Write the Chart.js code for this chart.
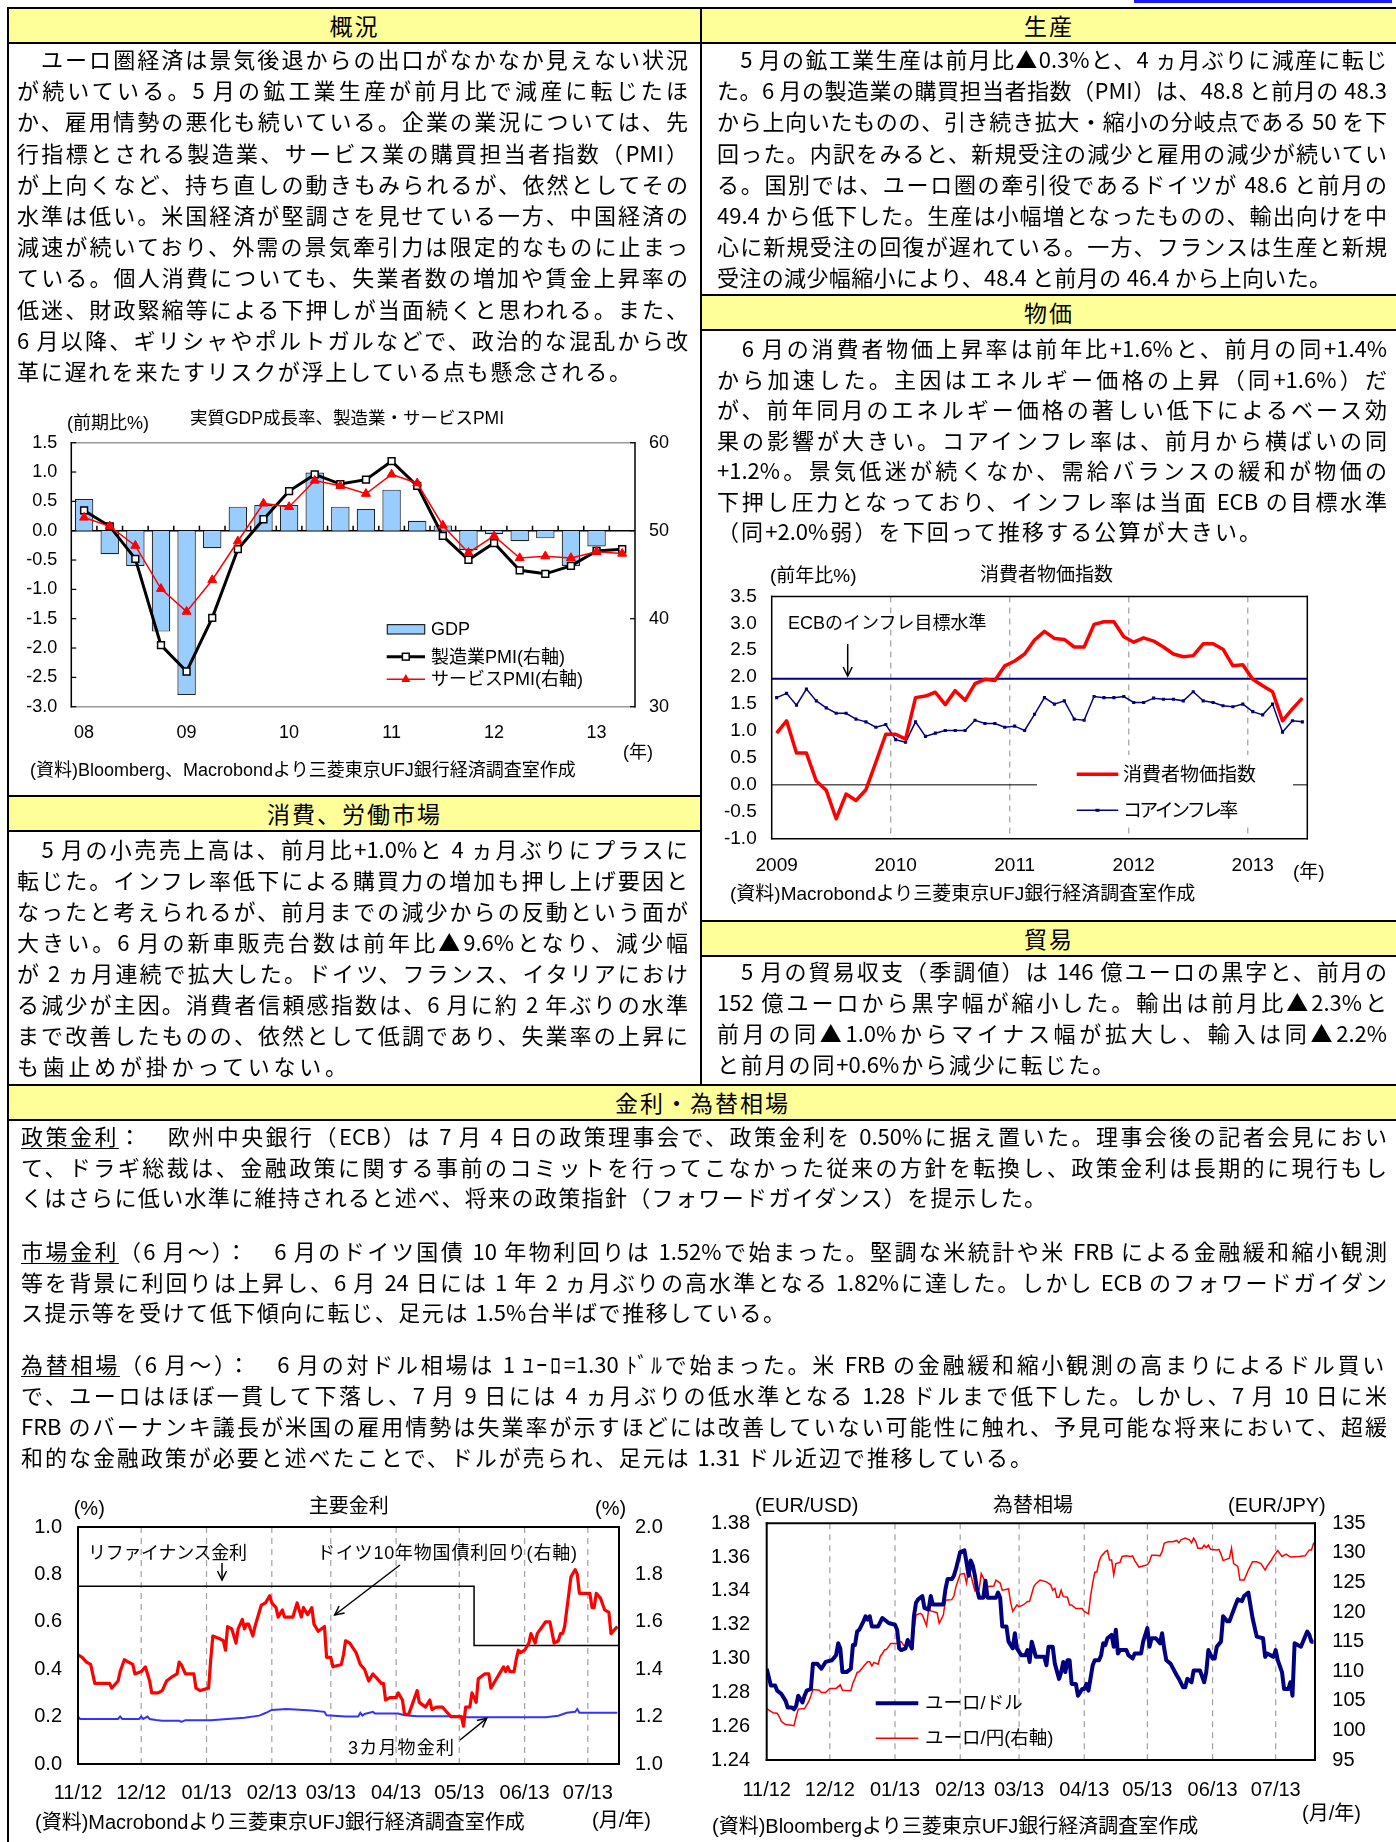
<!DOCTYPE html>
<html lang="ja">
<head>
<meta charset="UTF-8">
<title>ユーロ圏経済</title>
<style>
  body { margin: 0; background: #fff; }
  #page { position: relative; width: 1396px; height: 1842px; overflow: hidden; font-family: "Noto Sans CJK JP", sans-serif; color: #000; }
  .cell { position: absolute; box-sizing: border-box; border: 2px solid #000; background: #fff; }
  .hd { background: #ffff99; text-align: center; font-size: 23px; line-height: 33px; letter-spacing: 2px; }
  .ln { position: absolute; height: 30px; line-height: 30px; font-size: 22px; text-align: justify; text-align-last: justify; }
  .ct { position: absolute; white-space: nowrap; line-height: 1; font-family: "Liberation Sans", "Noto Sans CJK JP", sans-serif; }
  canvas { position: absolute; }
  u { text-decoration-thickness: 1px; text-underline-offset: 3px; }
  #ov { position: absolute; left: 0; top: 0; }
</style>
</head>
<body>
<div id="page">
  <div style="position:absolute;left:1134px;top:0;width:258px;height:3px;background:#1a1aff"></div>

  <!-- table cells -->
  <div class="cell" style="left:7px;top:42px;width:695px;height:755px"></div>
  <div class="cell" style="left:7px;top:830px;width:695px;height:256px"></div>
  <div class="cell" style="left:700px;top:42px;width:698px;height:254px"></div>
  <div class="cell" style="left:700px;top:329px;width:698px;height:593px"></div>
  <div class="cell" style="left:700px;top:955px;width:698px;height:131px"></div>
  <div class="cell" style="left:7px;top:1119px;width:1391px;height:760px"></div>
  <div class="cell hd" style="left:7px;top:7px;width:695px;height:37px">概況</div>
  <div class="cell hd" style="left:700px;top:7px;width:698px;height:37px">生産</div>
  <div class="cell hd" style="left:7px;top:795px;width:695px;height:37px">消費、労働市場</div>
  <div class="cell hd" style="left:700px;top:294px;width:698px;height:37px">物価</div>
  <div class="cell hd" style="left:700px;top:920px;width:698px;height:37px">貿易</div>
  <div class="cell hd" style="left:7px;top:1084px;width:1391px;height:37px">金利・為替相場</div>

  <!-- charts -->
  <canvas id="gdpChart" width="680" height="330" style="left:12px;top:430px;width:680px;height:330px"></canvas>
  <canvas id="cpiChart" width="691" height="300" style="left:705px;top:585px;width:691px;height:300px"></canvas>
  <canvas id="rateChart" width="680" height="290" style="left:12px;top:1515px;width:680px;height:290px"></canvas>
  <canvas id="fxChart" width="691" height="300" style="left:705px;top:1510px;width:691px;height:300px"></canvas>

  <svg id="ov" width="1396" height="1842"></svg>
</div>

<script src="https://cdn.jsdelivr.net/npm/chart.js"></script>
<script>
// ---- chart 1: real GDP q/q and PMIs (quarterly, 2008Q1 - 2013Q2)
const quarters = ['08Q1','08Q2','08Q3','08Q4','09Q1','09Q2','09Q3','09Q4','10Q1','10Q2','10Q3','10Q4',
                  '11Q1','11Q2','11Q3','11Q4','12Q1','12Q2','12Q3','12Q4','13Q1','13Q2'];
const gdp    = [0.54,-0.40,-0.60,-1.72,-2.80,-0.30,0.41,0.44,0.44,0.99,0.41,0.37,
                 0.70,0.17,0.09,-0.33,-0.06,-0.18,-0.13,-0.60,-0.27,null];
const mfgPmi = [52.3,50.5,46.8,37.0,34.0,40.1,47.9,51.3,54.5,56.4,55.3,55.8,
                57.9,55.1,49.4,46.7,48.6,45.5,45.1,46.0,47.7,47.9];
const svcPmi = [51.5,50.5,48.3,43.4,40.8,44.4,48.8,53.1,52.7,55.7,55.1,54.2,
                56.4,55.4,50.6,47.5,49.4,46.9,47.1,46.9,47.6,47.4];

// ---- chart 2: HICP y/y, monthly Jan 2009 - Jun 2013
const yearLabels = ['2009','2010','2011','2012','2013'];
const cpi = [0.96,1.19,0.59,0.59,0.07,-0.10,-0.63,-0.17,-0.29,-0.09,0.42,0.94,
             0.94,0.85,1.62,1.65,1.72,1.49,1.75,1.57,1.88,1.96,1.94,2.21,
             2.30,2.43,2.69,2.85,2.72,2.70,2.56,2.56,2.98,3.03,3.03,2.75,
             2.65,2.73,2.67,2.56,2.43,2.38,2.40,2.62,2.62,2.52,2.21,2.23,
             1.96,1.84,1.73,1.19,1.41,1.61];
const coreCpi = [1.62,1.70,1.48,1.78,1.56,1.43,1.33,1.33,1.22,1.17,1.07,1.12,
                 0.84,0.79,1.17,0.90,0.96,1.01,1.01,1.01,1.20,1.14,1.14,1.07,
                 1.09,1.01,1.31,1.62,1.50,1.56,1.22,1.20,1.64,1.62,1.62,1.64,
                 1.53,1.53,1.61,1.59,1.59,1.56,1.73,1.56,1.53,1.47,1.45,1.50,
                 1.36,1.30,1.50,0.98,1.19,1.17];
const ecbTarget = 1.97;

// ---- charts 3 & 4: daily, [days since 2012-11-01, value]
const monthLabels = ['11/12','12/12','01/13','02/13','03/13','04/13','05/13','06/13','07/13'];
const bund10y = [[0,1.46],[2,1.45],[4,1.43],[6,1.42],[7,1.38],[8,1.34],[15,1.34],[16,1.32],[17,1.33],[19,1.35],
  [20,1.39],[22,1.44],[24,1.43],[26,1.42],[27,1.38],[30,1.39],[32,1.41],[34,1.35],[35,1.30],[38,1.30],
  [40,1.31],[42,1.35],[45,1.37],[47,1.38],[48,1.43],[49,1.42],[51,1.38],[55,1.38],[56,1.32],[58,1.31],
  [62,1.32],[63,1.44],[64,1.54],[67,1.53],[69,1.52],[70,1.48],[71,1.58],[73,1.57],[75,1.51],[76,1.57],
  [78,1.61],[79,1.57],[80,1.59],[81,1.59],[83,1.54],[84,1.58],[86,1.64],[87,1.67],[89,1.68],[91,1.71],
  [92,1.68],[94,1.66],[95,1.62],[97,1.65],[98,1.62],[102,1.62],[104,1.68],[106,1.62],[107,1.66],[109,1.63],
  [111,1.66],[112,1.59],[114,1.56],[117,1.58],[118,1.45],[120,1.45],[121,1.41],[125,1.42],[126,1.46],[127,1.52],
  [129,1.51],[132,1.47],[134,1.42],[136,1.40],[138,1.35],[140,1.38],[142,1.36],[144,1.34],[145,1.34],[146,1.27],
  [148,1.28],[151,1.28],[152,1.30],[154,1.27],[155,1.21],[157,1.21],[159,1.26],[161,1.31],[162,1.26],[165,1.24],
  [167,1.27],[168,1.23],[170,1.24],[173,1.24],[174,1.23],[176,1.21],[177,1.20],[182,1.20],[183,1.16],[184,1.24],
  [186,1.24],[187,1.30],[189,1.26],[190,1.36],[193,1.38],[195,1.38],[196,1.32],[198,1.35],[200,1.38],[202,1.41],
  [203,1.39],[204,1.41],[205,1.39],[207,1.39],[208,1.44],[209,1.48],[210,1.47],[212,1.48],[214,1.51],[215,1.55],
  [217,1.51],[218,1.55],[222,1.60],[224,1.60],[226,1.51],[228,1.52],[229,1.55],[230,1.55],[231,1.58],[233,1.72],
  [234,1.79],[236,1.82],[237,1.80],[238,1.72],[243,1.72],[244,1.66],[245,1.66],[246,1.72],[248,1.70],[250,1.65],
  [252,1.64],[253,1.55],[256,1.58]];
const euribor3m = [[0,0.20],[1,0.19],[19,0.19],[20,0.20],[21,0.19],[29,0.19],[30,0.20],[31,0.19],[33,0.20],[34,0.19],
  [37,0.186],[40,0.183],[48,0.183],[49,0.178],[51,0.185],[63,0.185],[71,0.19],[79,0.195],[86,0.204],[89,0.215],
  [92,0.228],[99,0.232],[111,0.226],[117,0.22],[118,0.206],[127,0.20],[133,0.20],[134,0.216],[135,0.204],[136,0.211],
  [140,0.22],[141,0.213],[152,0.213],[155,0.206],[161,0.202],[180,0.202],[182,0.197],[222,0.197],[228,0.204],[232,0.216],
  [236,0.22],[237,0.232],[238,0.216],[256,0.216]];
const refiRate = [[0,0.75],[188,0.50],[257,0.50]];

const eurUsd = [[0,1.294],[2,1.284],[4,1.284],[5,1.281],[7,1.279],[9,1.275],[10,1.271],[12,1.271],[13,1.270],[14,1.272],
  [15,1.278],[17,1.274],[18,1.278],[19,1.281],[21,1.282],[22,1.297],[24,1.297],[26,1.294],[28,1.298],[31,1.299],
  [33,1.302],[34,1.309],[35,1.306],[36,1.292],[38,1.292],[40,1.294],[41,1.308],[42,1.308],[43,1.316],[44,1.317],
  [46,1.322],[47,1.325],[48,1.323],[49,1.325],[50,1.319],[53,1.319],[55,1.324],[58,1.321],[61,1.320],[62,1.317],
  [63,1.306],[64,1.305],[66,1.306],[67,1.311],[69,1.306],[70,1.325],[71,1.333],[72,1.335],[74,1.337],[75,1.330],
  [77,1.329],[78,1.337],[79,1.332],[84,1.332],[85,1.341],[86,1.347],[88,1.347],[89,1.349],[90,1.353],[91,1.358],
  [92,1.363],[94,1.364],[95,1.357],[96,1.349],[97,1.358],[98,1.355],[99,1.349],[100,1.341],[101,1.336],[103,1.336],
  [104,1.346],[105,1.336],[109,1.336],[110,1.339],[111,1.336],[112,1.319],[114,1.319],[115,1.310],[117,1.306],[118,1.315],
  [119,1.306],[121,1.302],[123,1.302],[124,1.305],[125,1.298],[126,1.310],[128,1.301],[130,1.301],[132,1.301],[133,1.296],
  [134,1.307],[136,1.307],[137,1.297],[139,1.288],[140,1.292],[141,1.298],[142,1.292],[143,1.299],[144,1.299],[145,1.285],
  [147,1.285],[148,1.278],[150,1.282],[151,1.282],[152,1.285],[153,1.281],[155,1.296],[156,1.299],[158,1.299],[159,1.302],
  [160,1.309],[161,1.308],[162,1.312],[164,1.314],[165,1.307],[166,1.317],[167,1.303],[168,1.305],[171,1.305],[172,1.302],
  [174,1.300],[175,1.303],[178,1.303],[179,1.310],[181,1.318],[182,1.307],[183,1.312],[185,1.312],[187,1.309],[188,1.315],
  [189,1.306],[190,1.299],[192,1.297],[195,1.290],[196,1.288],[198,1.283],[199,1.283],[200,1.288],[202,1.286],[203,1.293],
  [206,1.293],[208,1.286],[209,1.292],[210,1.305],[212,1.300],[213,1.300],[214,1.307],[216,1.310],[217,1.325],[219,1.322],
  [220,1.322],[223,1.332],[224,1.335],[226,1.334],[227,1.337],[229,1.339],[231,1.324],[233,1.313],[236,1.312],[237,1.301],
  [238,1.303],[241,1.301],[242,1.305],[243,1.299],[245,1.292],[246,1.282],[248,1.282],[249,1.286],[250,1.278],[251,1.309],
  [254,1.307],[257,1.316],[258,1.314],[259,1.310],[260,1.310]];
const eurJpy = [[0,103.7],[2,103.2],[3,103.0],[5,102.9],[6,102.3],[7,101.5],[9,101.0],[11,100.9],[13,100.8],[14,102.3],
  [15,103.6],[18,103.7],[20,104.9],[21,105.8],[22,106.9],[25,106.8],[26,106.4],[28,106.4],[30,107.1],[33,107.1],
  [35,107.7],[36,106.8],[40,106.7],[41,108.0],[42,108.8],[43,109.8],[44,109.9],[46,110.8],[48,111.6],[49,111.6],
  [50,110.9],[51,111.5],[53,111.2],[54,112.5],[55,113.0],[56,113.6],[57,113.7],[59,114.7],[62,114.7],[63,115.0],
  [64,115.0],[65,114.4],[67,114.2],[68,115.0],[69,114.1],[70,117.0],[71,119.5],[73,119.8],[74,119.5],[76,117.7],
  [77,120.4],[78,120.2],[81,119.9],[82,118.1],[84,119.5],[85,122.0],[88,122.1],[89,122.7],[90,124.3],[92,126.4],
  [94,126.5],[95,124.9],[96,127.1],[97,126.3],[99,123.6],[101,123.8],[102,126.5],[103,125.8],[105,124.3],[108,124.4],
  [109,125.4],[111,124.9],[112,123.7],[115,123.9],[116,121.6],[117,120.1],[119,121.2],[120,120.9],[122,121.2],[124,121.8],
  [125,121.8],[127,124.3],[128,124.8],[130,125.4],[133,125.1],[135,124.6],[136,123.7],[137,124.0],[138,122.5],[139,122.5],
  [140,123.7],[141,122.6],[143,122.5],[144,121.2],[145,121.2],[147,120.6],[150,120.6],[151,120.1],[153,119.7],[154,122.7],
  [155,124.9],[156,126.7],[157,126.8],[158,128.5],[159,129.4],[161,130.2],[162,130.4],[163,128.8],[164,128.8],[165,126.3],
  [166,128.2],[168,128.4],[169,129.4],[171,129.5],[173,129.4],[174,129.5],[175,128.7],[177,127.6],[179,127.8],[181,128.0],
  [182,128.5],[183,129.6],[185,129.6],[187,129.5],[188,130.2],[189,131.6],[191,131.9],[193,131.9],[195,132.1],[196,131.7],
  [197,132.2],[199,132.5],[201,132.2],[202,131.7],[203,132.5],[204,131.9],[205,130.8],[207,130.8],[208,131.3],[209,130.9],
  [210,131.3],[211,130.6],[214,130.5],[215,130.6],[216,129.8],[217,128.7],[220,129.1],[221,130.8],[222,128.2],[224,127.7],
  [225,125.4],[227,125.4],[229,127.1],[231,128.5],[233,128.5],[235,128.2],[237,127.1],[238,127.8],[240,128.8],[241,129.4],
  [243,130.4],[245,129.4],[247,129.8],[249,129.3],[253,129.4],[256,129.5],[258,130.5],[259,130.5],[260,131.6],[261,131.2]];

// ---------------------------------------------------------------- text
const page = document.getElementById('page');

function textLines(arr, left, right, centers, lastRight) {
  arr.forEach((t, i) => {
    const d = document.createElement('div');
    d.className = 'ln';
    d.innerHTML = t;
    const r = (i === arr.length - 1 && lastRight) ? lastRight : right;
    d.style.left = left + 'px';
    d.style.width = (r - left) + 'px';
    d.style.top = (centers[i] - 15) + 'px';
    page.appendChild(d);
  });
}
const rows = (c0, step, n) => Array.from({ length: n }, (_, i) => c0 + step * i);

textLines([
  '　ユーロ圏経済は景気後退からの出口がなかなか見えない状況',
  'が続いている。5 月の鉱工業生産が前月比で減産に転じたほ',
  'か、雇用情勢の悪化も続いている。企業の業況については、先',
  '行指標とされる製造業、サービス業の購買担当者指数（PMI）',
  'が上向くなど、持ち直しの動きもみられるが、依然としてその',
  '水準は低い。米国経済が堅調さを見せている一方、中国経済の',
  '減速が続いており、外需の景気牽引力は限定的なものに止まっ',
  'ている。個人消費についても、失業者数の増加や賃金上昇率の',
  '低迷、財政緊縮等による下押しが当面続くと思われる。また、',
  '6 月以降、ギリシャやポルトガルなどで、政治的な混乱から改',
  '革に遅れを来たすリスクが浮上している点も懸念される。'
], 17, 688, rows(58, 31.2, 11), 631);

textLines([
  '　5 月の鉱工業生産は前月比▲0.3%と、4 ヵ月ぶりに減産に転じ',
  'た。6 月の製造業の購買担当者指数（PMI）は、48.8 と前月の 48.3',
  'から上向いたものの、引き続き拡大・縮小の分岐点である 50 を下',
  '回った。内訳をみると、新規受注の減少と雇用の減少が続いてい',
  'る。国別では、ユーロ圏の牽引役であるドイツが 48.6 と前月の',
  '49.4 から低下した。生産は小幅増となったものの、輸出向けを中',
  '心に新規受注の回復が遅れている。一方、フランスは生産と新規',
  '受注の減少幅縮小により、48.4 と前月の 46.4 から上向いた。'
], 717, 1387, rows(58, 31.2, 8), 1331);

textLines([
  '　6 月の消費者物価上昇率は前年比+1.6%と、前月の同+1.4%',
  'から加速した。主因はエネルギー価格の上昇（同+1.6%）だ',
  'が、前年同月のエネルギー価格の著しい低下によるベース効',
  '果の影響が大きい。コアインフレ率は、前月から横ばいの同',
  '+1.2%。景気低迷が続くなか、需給バランスの緩和が物価の',
  '下押し圧力となっており、インフレ率は当面 ECB の目標水準',
  '（同+2.0%弱）を下回って推移する公算が大きい。'
], 717, 1387, rows(347, 30.5, 7), 1261);

textLines([
  '　5 月の小売売上高は、前月比+1.0%と 4 ヵ月ぶりにプラスに',
  '転じた。インフレ率低下による購買力の増加も押し上げ要因と',
  'なったと考えられるが、前月までの減少からの反動という面が',
  '大きい。6 月の新車販売台数は前年比▲9.6%となり、減少幅',
  'が 2 ヵ月連続で拡大した。ドイツ、フランス、イタリアにおけ',
  'る減少が主因。消費者信頼感指数は、6 月に約 2 年ぶりの水準',
  'まで改善したものの、依然として低調であり、失業率の上昇に',
  'も歯止めが掛かっていない。'
], 17, 688, rows(847.5, 31, 8), 347);

textLines([
  '　5 月の貿易収支（季調値）は 146 億ユーロの黒字と、前月の',
  '152 億ユーロから黒字幅が縮小した。輸出は前月比▲2.3%と',
  '前月の同▲1.0%からマイナス幅が拡大し、輸入は同▲2.2%',
  'と前月の同+0.6%から減少に転じた。'
], 717, 1387, rows(969.5, 31, 4), 1114);

textLines([
  '<u>政策金利</u>：　欧州中央銀行（ECB）は 7 月 4 日の政策理事会で、政策金利を 0.50%に据え置いた。理事会後の記者会見におい',
  'て、ドラギ総裁は、金融政策に関する事前のコミットを行ってこなかった従来の方針を転換し、政策金利は長期的に現行もし',
  'くはさらに低い水準に維持されると述べ、将来の政策指針（フォワードガイダンス）を提示した。'
], 21, 1387, rows(1135, 30.5, 3), 1046);
textLines([
  '<u>市場金利</u>（6 月～）：　6 月のドイツ国債 10 年物利回りは 1.52%で始まった。堅調な米統計や米 FRB による金融緩和縮小観測',
  '等を背景に利回りは上昇し、6 月 24 日には 1 年 2 ヵ月ぶりの高水準となる 1.82%に達した。しかし ECB のフォワードガイダン',
  'ス提示等を受けて低下傾向に転じ、足元は 1.5%台半ばで推移している。'
], 21, 1387, rows(1250, 30.5, 3), 785);
textLines([
  '<u>為替相場</u>（6 月～）：　6 月の対ドル相場は 1 ﾕｰﾛ=1.30 ﾄﾞﾙで始まった。米 FRB の金融緩和縮小観測の高まりによるドル買い',
  'で、ユーロはほぼ一貫して下落し、7 月 9 日には 4 ヵ月ぶりの低水準となる 1.28 ドルまで低下した。しかし、7 月 10 日に米',
  'FRB のバーナンキ議長が米国の雇用情勢は失業率が示すほどには改善していない可能性に触れ、予見可能な将来において、超緩',
  '和的な金融政策が必要と述べたことで、ドルが売られ、足元は 1.31 ドル近辺で推移している。'
], 21, 1387, rows(1363, 31, 4), 1032);

// ---------------------------------------------------------------- charts
Chart.defaults.font.family = '"Liberation Sans", "Noto Sans CJK JP", sans-serif';
Chart.defaults.color = '#000';
Chart.defaults.animation = false;

const decor = {
  id: 'decor',
  beforeDatasetsDraw(chart, args, o) {
    const { ctx, chartArea: a, scales } = chart;
    ctx.save();
    if (o.vGrid) {
      ctx.strokeStyle = '#a0a0a0';
      ctx.lineWidth = 1.2;
      ctx.setLineDash([6, 5]);
      o.vGrid.forEach(v => {
        const x = scales.x.getPixelForValue(v);
        ctx.beginPath(); ctx.moveTo(x, a.top); ctx.lineTo(x, a.bottom); ctx.stroke();
      });
      ctx.setLineDash([]);
    }
    if (o.zeroAxis) {
      const y = scales[o.zeroAxis].getPixelForValue(0);
      ctx.strokeStyle = '#000';
      ctx.lineWidth = o.zeroWidth || 1;
      ctx.beginPath(); ctx.moveTo(a.left, y); ctx.lineTo(a.right, y); ctx.stroke();
      if (o.catTicks) {
        const xs = scales.x, n = xs.getLabels().length;
        for (let i = 1; i < n; i++) {
          const x = (xs.getPixelForValue(i - 1) + xs.getPixelForValue(i)) / 2;
          ctx.beginPath(); ctx.moveTo(x, y); ctx.lineTo(x, y - 5); ctx.stroke();
        }
      }
    }
    ctx.restore();
  },
  afterDraw(chart, args, o) {
    if (!o.frame) return;
    const { ctx, chartArea: a, scales } = chart;
    const f = o.frame, h = f.width / 2;
    ctx.save();
    ctx.lineWidth = f.width;
    const seg = (c, x1, y1, x2, y2) => {
      ctx.strokeStyle = c; ctx.beginPath(); ctx.moveTo(x1, y1); ctx.lineTo(x2, y2); ctx.stroke();
    };
    seg(f.tb || f.color, a.left - h, a.top, a.right + h, a.top);
    seg(f.tb || f.color, a.left - h, a.bottom, a.right + h, a.bottom);
    seg(f.color, a.left, a.top - h, a.left, a.bottom + h);
    seg(f.color, a.right, a.top - h, a.right, a.bottom + h);
    if (f.innerTicks) {
      ctx.lineWidth = 1.2;
      f.innerTicks.forEach(([id, dir]) => {
        const s = scales[id], x0 = dir > 0 ? a.left : a.right;
        s.ticks.forEach(t => { const y = s.getPixelForValue(t.value); seg(f.color, x0, y, x0 + dir * 5, y); });
      });
    }
    ctx.restore();
  }
};
Chart.register(decor);

// the gap between axis and labels is made with an (undrawn) tick length rather than
// ticks.padding, because the padding would also push the plot area down
function yAxis(pos, min, max, step, gap, width, dec, size) {
  return {
    type: 'linear', position: pos, min, max,
    ticks: { stepSize: step, padding: 0, autoSkip: false, font: { size }, callback: v => v.toFixed(dec) },
    grid: { display: false, drawTicks: true, tickLength: gap },
    border: { display: false },
    afterFit: s => { s.width = width; }
  };
}
function xTicksAt(values) {
  return s => { s.ticks = values.map(v => ({ value: v })); };
}
const noLegend = { legend: { display: false }, tooltip: { enabled: false } };

// chart 1
new Chart(document.getElementById('gdpChart'), {
  type: 'bar',
  data: {
    labels: quarters,
    datasets: [
      { type: 'line', label: 'サービスPMI(右軸)', data: svcPmi, yAxisID: 'yR', order: 0,
        borderColor: '#ff0000', borderWidth: 1.5, pointStyle: 'triangle', pointRadius: 5.2,
        pointBackgroundColor: '#ff0000', pointBorderColor: '#ff0000', pointBorderWidth: 1 },
      { type: 'line', label: '製造業PMI(右軸)', data: mfgPmi, yAxisID: 'yR', order: 1,
        borderColor: '#000', borderWidth: 3, pointStyle: 'rect', pointRadius: 4.8,
        pointBackgroundColor: '#fff', pointBorderColor: '#000', pointBorderWidth: 1.5 },
      { type: 'bar', label: 'GDP', data: gdp, yAxisID: 'yL', order: 2,
        backgroundColor: '#99ccff', borderColor: '#222', borderWidth: 1.2,
        categoryPercentage: 1, barPercentage: 0.72 }
    ]
  },
  options: {
    responsive: false,
    layout: { padding: { top: 12.7 } },
    plugins: Object.assign({ decor: { zeroAxis: 'yL', zeroWidth: 1.5, catTicks: true,
      frame: { color: '#000', tb: '#999', width: 1.5, innerTicks: [['yL', 1], ['yR', -1]] } } }, noLegend),
    scales: {
      x: { type: 'category', offset: true, grid: { display: false, drawTicks: true, tickLength: 15.5 }, border: { display: false },
           ticks: { autoSkip: false, maxRotation: 0, padding: 0, font: { size: 18 },
                    callback: (v, i) => quarters[i].endsWith('Q1') ? quarters[i].slice(0, 2) : '' },
           afterFit: s => { s.height = 53.3; } },
      yL: yAxis('left', -3, 1.5, 0.5, 14, 59.3, 1, 18),
      yR: yAxis('right', 30, 60, 10, 14, 57, 0, 18)
    }
  }
});

// chart 2 (x axis in months from Jan 2009, values plotted mid-month)
new Chart(document.getElementById('cpiChart'), {
  type: 'line',
  data: {
    datasets: [
      { label: '消費者物価指数', data: cpi.map((v, i) => ({ x: i + 0.5, y: v })), order: 0,
        borderColor: '#ff0000', borderWidth: 3.5, pointRadius: 0, borderJoinStyle: 'round' },
      { label: 'ECB目標', data: [{ x: 0, y: ecbTarget }, { x: 54, y: ecbTarget }], order: 1,
        borderColor: '#000080', borderWidth: 2, pointRadius: 0 },
      { label: 'コアインフレ率', data: coreCpi.map((v, i) => ({ x: i + 0.5, y: v })), order: 2,
        borderColor: '#000080', borderWidth: 1.5, pointStyle: 'rect', pointRadius: 2.2,
        pointBackgroundColor: '#000080', pointBorderColor: '#000080', pointBorderWidth: 0 }
    ]
  },
  options: {
    responsive: false,
    layout: { padding: { top: 11, right: 88.7 } },
    plugins: Object.assign({ decor: { vGrid: yearLabels.slice(1).map((_, i) => (i + 1) * 12), zeroAxis: 'y', zeroWidth: 1,
      frame: { color: '#000', width: 1.5 } } }, noLegend),
    scales: {
      x: { type: 'linear', min: 0, max: 54, grid: { display: false, drawTicks: true, tickLength: 15.9 }, border: { display: false },
           afterBuildTicks: xTicksAt(yearLabels.map((_, i) => i * 12 + 0.5)),
           ticks: { autoSkip: false, maxRotation: 0, padding: 0, font: { size: 19 }, callback: (v, i) => yearLabels[i] },
           afterFit: s => { s.height = 46.3; } },
      y: yAxis('left', -1, 3.5, 0.5, 15, 66.7, 1, 19)
    }
  }
});

// month starts as day offsets from 2012-11-01
const monthDays = monthLabels.map(m => {
  const mm = +m.slice(0, 2), yy = 2000 + +m.slice(3);
  return (Date.UTC(yy, mm - 1, 1) - Date.UTC(2012, 10, 1)) / 864e5;
});
const pts = arr => arr.map(([x, y]) => ({ x, y }));
function monthAxis(max, gap, height) {
  return {
    type: 'linear', min: 0, max, grid: { display: false, drawTicks: true, tickLength: gap }, border: { display: false },
    afterBuildTicks: xTicksAt(monthDays),
    ticks: { autoSkip: false, maxRotation: 0, padding: 0, font: { size: 20 }, callback: (v, i) => monthLabels[i] },
    afterFit: s => { s.height = height; }
  };
}

// chart 3
new Chart(document.getElementById('rateChart'), {
  type: 'line',
  data: {
    datasets: [
      { label: 'ドイツ10年物国債利回り(右軸)', data: pts(bund10y), yAxisID: 'yR', order: 0,
        borderColor: '#ff0000', borderWidth: 3.2, pointRadius: 0, borderJoinStyle: 'round' },
      { label: 'リファイナンス金利', data: pts(refiRate), yAxisID: 'yL', order: 1, stepped: 'before',
        borderColor: '#000', borderWidth: 1.5, pointRadius: 0 },
      { label: '3カ月物金利', data: pts(euribor3m), yAxisID: 'yL', order: 2,
        borderColor: '#3333ff', borderWidth: 2, pointRadius: 0 }
    ]
  },
  options: {
    responsive: false,
    layout: { padding: { top: 11.7 } },
    plugins: Object.assign({ decor: { vGrid: monthDays.slice(1), frame: { color: '#000', width: 2 } } }, noLegend),
    scales: {
      x: monthAxis(256.8, 17, 41),
      yL: yAxis('left', 0, 1, 0.2, 16, 66, 1, 20),
      yR: yAxis('right', 1, 2, 0.2, 16, 73, 1, 20)
    }
  }
});

// chart 4
new Chart(document.getElementById('fxChart'), {
  type: 'line',
  data: {
    datasets: [
      { label: 'ユーロ/ドル', data: pts(eurUsd), yAxisID: 'yL', order: 0,
        borderColor: '#000080', borderWidth: 4, pointRadius: 0, borderJoinStyle: 'round' },
      { label: 'ユーロ/円(右軸)', data: pts(eurJpy), yAxisID: 'yR', order: 1,
        borderColor: '#ff0000', borderWidth: 1.5, pointRadius: 0 }
    ]
  },
  options: {
    responsive: false,
    layout: { padding: { top: 13.3 } },
    plugins: Object.assign({ decor: { vGrid: monthDays.slice(1), frame: { color: '#000', width: 2 } } }, noLegend),
    scales: {
      x: monthAxis(260.7, 18, 50),
      yL: yAxis('left', 1.24, 1.38, 0.02, 16.7, 61.7, 2, 20),
      yR: yAxis('right', 95, 135, 5, 17.3, 81, 0, 20)
    }
  }
});

// ---------------------------------------------------------------- overlays: legends, arrows, labels
const svg = [];
function arrow(x1, y1, x2, y2) {
  const dx = x2 - x1, dy = y2 - y1, L = Math.hypot(dx, dy), ux = dx / L, uy = dy / L;
  const bx = x2 - ux * 9, by = y2 - uy * 9, nx = -uy * 4.5, ny = ux * 4.5;
  svg.push(`<line x1="${x1}" y1="${y1}" x2="${x2}" y2="${y2}" stroke="#000" stroke-width="1.5"/>`);
  svg.push(`<polyline points="${bx + nx},${by + ny} ${x2},${y2} ${bx - nx},${by - ny}" fill="none" stroke="#000" stroke-width="1.5"/>`);
}
const hline = (x1, x2, y, c, w) => svg.push(`<line x1="${x1}" y1="${y}" x2="${x2}" y2="${y}" stroke="${c}" stroke-width="${w}"/>`);

// chart 1 legend symbols
svg.push('<rect x="387.3" y="624.6" width="37.4" height="9.4" fill="#99ccff" stroke="#222" stroke-width="1.2"/>');
hline(386.7, 425, 656.7, '#000', 3);
svg.push('<rect x="402.4" y="653.3" width="6.8" height="6.8" fill="#fff" stroke="#000" stroke-width="1.5"/>');
hline(386.7, 425, 679.3, '#ff0000', 1.5);
svg.push('<polygon points="405.8,674.1 410.3,681.9 401.3,681.9" fill="#ff0000"/>');
// chart 2 legend
svg.push('<rect x="1037" y="755" width="256" height="72" fill="#fff"/>');
hline(1076.7, 1118.3, 774.3, '#ff0000', 3.5);
hline(1076.7, 1118.3, 810.3, '#000080', 1.5);
svg.push('<rect x="1095.5" y="808.8" width="4" height="3" fill="#000080"/>');
arrow(847.7, 644, 847.7, 676);
// chart 3 arrows
arrow(222, 1563, 222, 1580);
arrow(400, 1565, 334.7, 1615);
arrow(460, 1740, 486.7, 1718.3);
// chart 4 legend
hline(875.7, 918.3, 1703.3, '#000080', 4);
hline(875.7, 918.3, 1738.3, '#ff0000', 1.5);
document.getElementById('ov').innerHTML = svg.join('');

function put(txt, x, cy, size, ls) {
  const s = document.createElement('span');
  s.className = 'ct';
  s.textContent = txt;
  s.style.left = x + 'px';
  s.style.top = (cy - size * 0.5) + 'px';
  s.style.fontSize = size + 'px';
  if (ls) s.style.letterSpacing = ls + 'px';
  page.appendChild(s);
}
// chart 1
put('(前期比%)', 67, 423, 18);
put('実質GDP成長率、製造業・サービスPMI', 190, 419, 17.5);
put('(年)', 623, 751.5, 18);
put('(資料)Bloomberg、Macrobondより三菱東京UFJ銀行経済調査室作成', 30, 770, 18);
put('GDP', 431, 628.5, 18);
put('製造業PMI(右軸)', 431, 656.7, 18);
put('サービスPMI(右軸)', 431, 678.5, 18);
// chart 2
put('(前年比%)', 770, 575, 19);
put('消費者物価指数', 980, 574, 19);
put('ECBのインフレ目標水準', 788, 622.5, 18);
put('消費者物価指数', 1123, 774.3, 19);
put('コアインフレ率', 1123, 810, 19, -2.7);
put('(年)', 1293, 871, 19);
put('(資料)Macrobondより三菱東京UFJ銀行経済調査室作成', 730, 893.5, 19);
// chart 3
put('(%)', 73.7, 1508, 20);
put('主要金利', 308.7, 1506, 20);
put('(%)', 595, 1508, 20);
put('リファイナンス金利', 88, 1552.5, 18, -0.3);
put('ドイツ10年物国債利回り(右軸)', 317, 1552.5, 18, 0.8);
put('3カ月物金利', 348, 1747.5, 18, 1.2);
put('(月/年)', 592, 1820, 20);
put('(資料)Macrobondより三菱東京UFJ銀行経済調査室作成', 35, 1822, 20);
// chart 4
put('(EUR/USD)', 755, 1505, 20);
put('為替相場', 993, 1505, 20);
put('(EUR/JPY)', 1228, 1505, 20);
put('ユーロ/ドル', 925, 1703, 18.5);
put('ユーロ/円(右軸)', 925, 1738.3, 18.5);
put('(月/年)', 1302, 1813, 20);
put('(資料)Bloombergより三菱東京UFJ銀行経済調査室作成', 712, 1826, 20);
</script>
</body>
</html>
